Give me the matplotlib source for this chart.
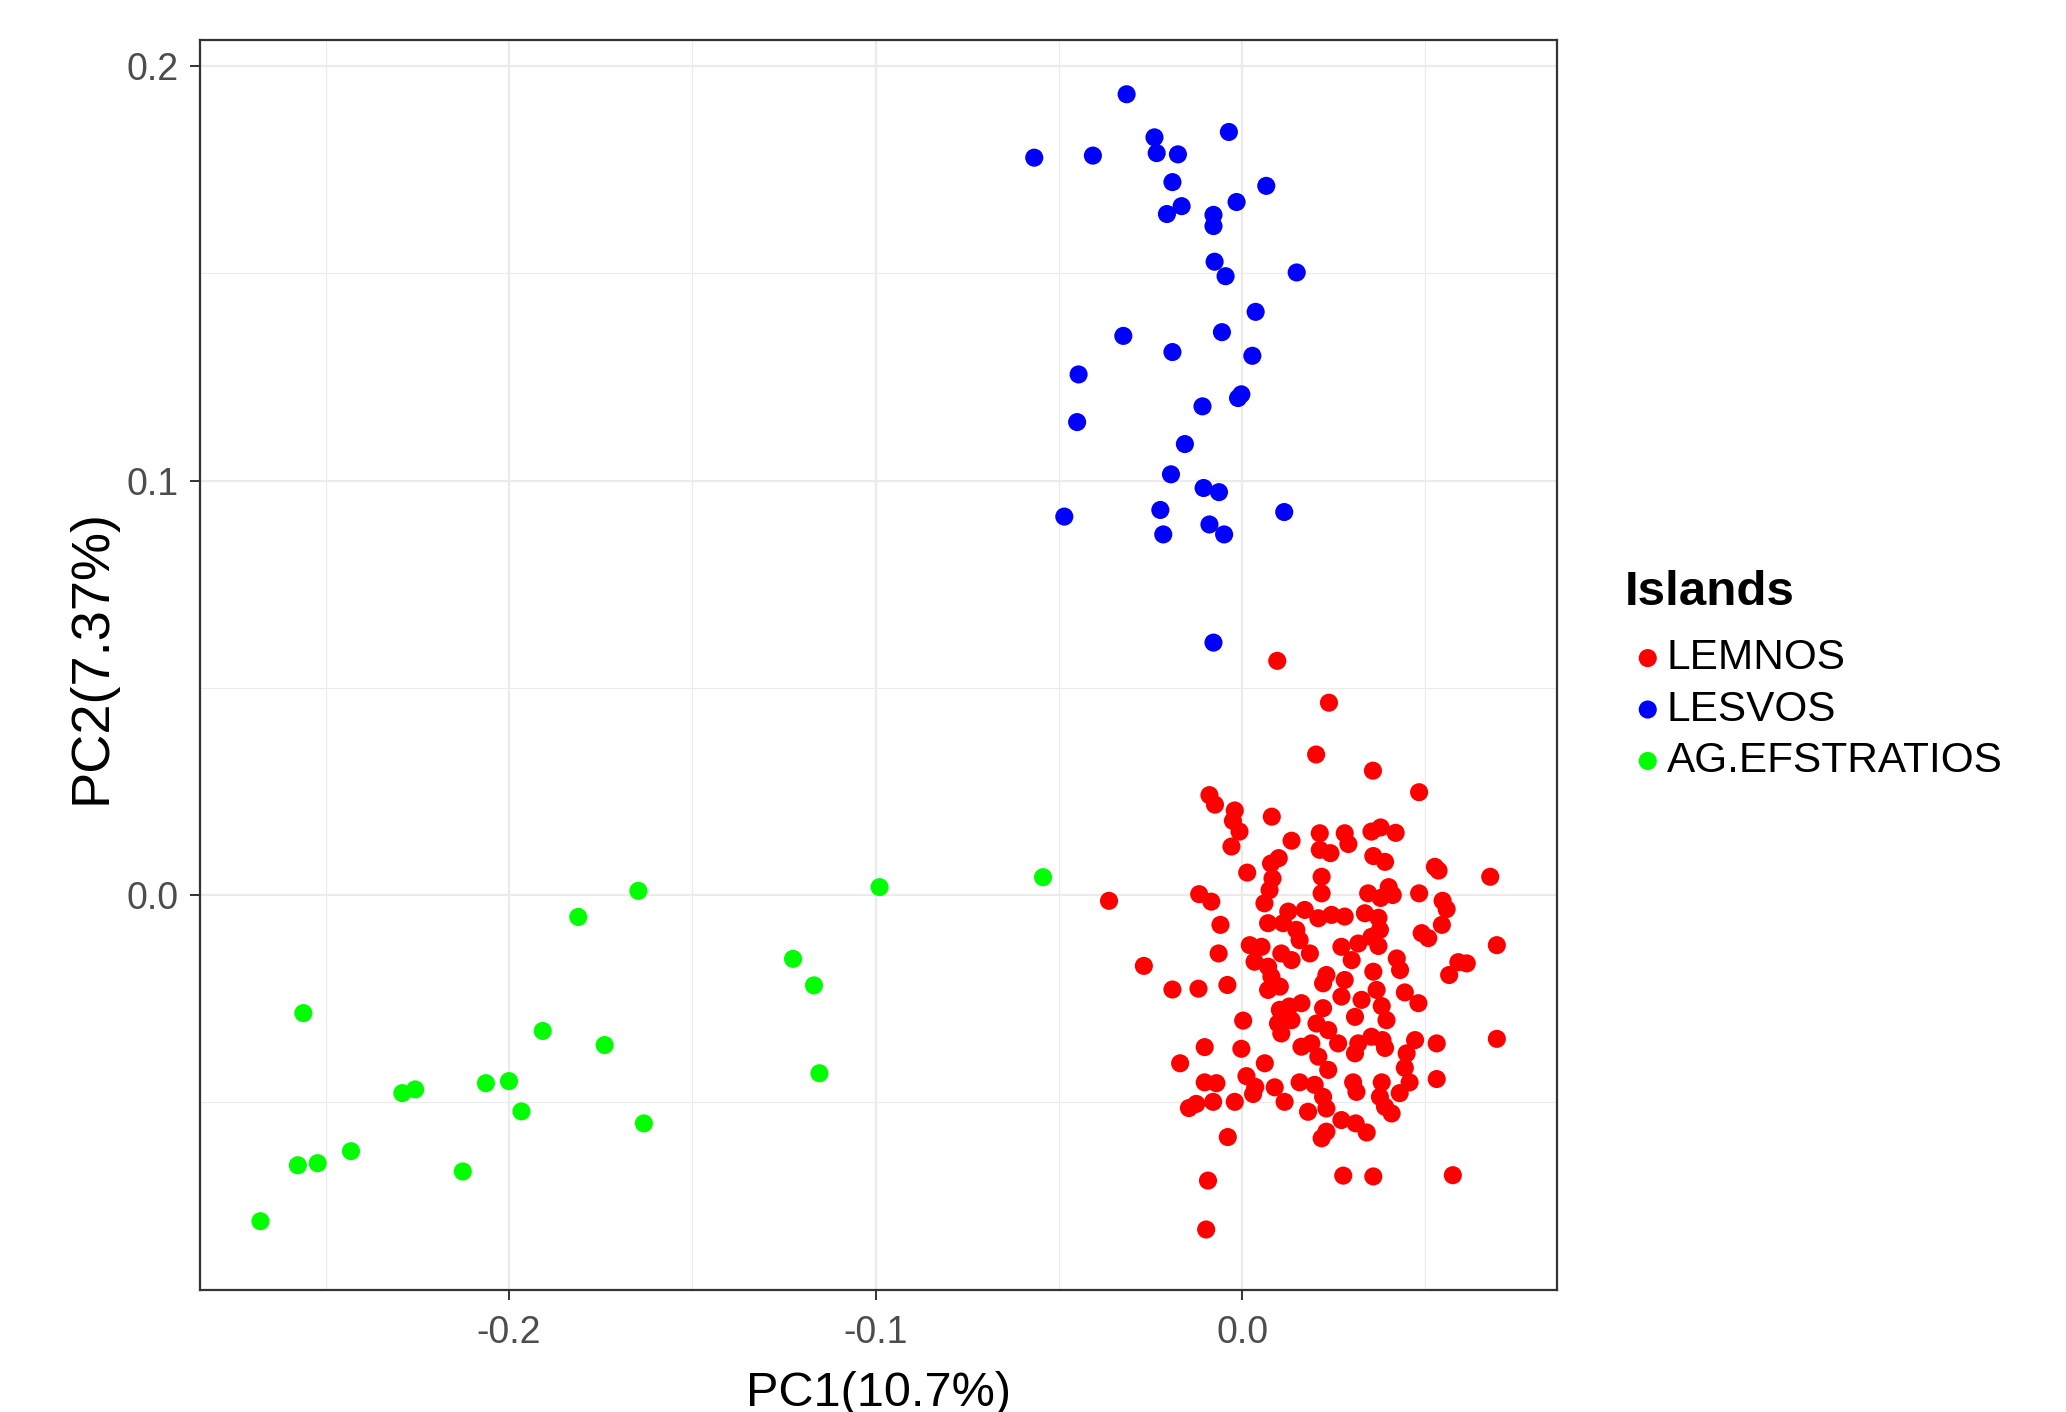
import matplotlib
matplotlib.use("Agg")
import matplotlib.pyplot as plt
import numpy as np

plt.rcParams["font.family"] = ["Liberation Sans", "DejaVu Sans"]

islands = ["LEMNOS", "LESVOS", "AG.EFSTRATIOS"]
island_colors = ["#FF0000", "#0000FF", "#00FF00"]

lemnos_pc1 = [
    0.0096, 0.0237, 0.0202, 0.0357, 0.0483, -0.0089, -0.0074, -0.0020, 0.0081, -0.0025,
    -0.0007, 0.0212, 0.0280, 0.0353, 0.0378, 0.0419, 0.0135, 0.0290, -0.0029, 0.0212,
    0.0241, 0.0358, 0.0390, 0.0100, 0.0079, 0.0526, 0.0536, 0.0677, 0.0014, 0.0083,
    0.0217, 0.0075, 0.0061, 0.0217, 0.0344, 0.0400, 0.0411, 0.0483, -0.0363, -0.0117,
    -0.0084, 0.0547, 0.0558, 0.0378, 0.0126, 0.0171, 0.0208, 0.0244, 0.0280, 0.0335,
    0.0372, -0.0059, 0.0071, 0.0112, 0.0148, 0.0157, 0.0545, 0.0376, 0.0490, 0.0508,
    0.0021, 0.0053, 0.0271, 0.0317, 0.0353, 0.0372, 0.0695, -0.0064, 0.0034, 0.0071,
    0.0107, 0.0135, 0.0185, 0.0299, 0.0422, 0.0431, 0.0590, 0.0613, 0.0565, -0.0268,
    0.0080, 0.0230, 0.0280, 0.0358, -0.0190, -0.0119, -0.0040, 0.0071, 0.0103, 0.0221,
    0.0271, 0.0367, 0.0444, 0.0481, 0.0326, 0.0381, 0.0103, 0.0129, 0.0162, 0.0221,
    0.0308, 0.0394, 0.0003, 0.0098, 0.0135, 0.0107, 0.0203, 0.0235, 0.0262, 0.0162,
    0.0189, 0.0208, 0.0235, 0.0317, 0.0308, 0.0353, 0.0383, 0.0390, 0.0472, 0.0449,
    0.0444, 0.0457, 0.0430, 0.0531, 0.0531, 0.0695, -0.0102, -0.0002, -0.0169, 0.0062,
    0.0012, 0.0036, -0.0102, -0.0070, -0.0079, -0.0145, -0.0125, -0.0020, 0.0089, 0.0116,
    0.0157, 0.0198, 0.0221, 0.0180, 0.0230, 0.0303, 0.0312, 0.0381, 0.0376, 0.0390,
    0.0408, 0.0271, 0.0310, 0.0340, 0.0230, 0.0217, -0.0039, -0.0093, 0.0276, 0.0358,
    0.0575, -0.0098, 0.0030,
]
lemnos_pc2 = [
    0.0565, 0.0464, 0.0339, 0.0300, 0.0248, 0.0241, 0.0218, 0.0204, 0.0189, 0.0179,
    0.0153, 0.0149, 0.0149, 0.0153, 0.0163, 0.0150, 0.0131, 0.0123, 0.0117, 0.0109,
    0.0101, 0.0094, 0.0080, 0.0089, 0.0076, 0.0068, 0.0059, 0.0044, 0.0054, 0.0040,
    0.0044, 0.0012, -0.0020, 0.0004, 0.0004, 0.0019, 0.0000, 0.0004, -0.0014, 0.0002,
    -0.0016, -0.0014, -0.0034, -0.0007, -0.0040, -0.0036, -0.0056, -0.0048, -0.0052, -0.0044,
    -0.0055, -0.0072, -0.0068, -0.0068, -0.0084, -0.0109, -0.0072, -0.0084, -0.0092, -0.0104,
    -0.0121, -0.0125, -0.0125, -0.0117, -0.0101, -0.0123, -0.0121, -0.0141, -0.0161, -0.0173,
    -0.0141, -0.0157, -0.0141, -0.0157, -0.0153, -0.0181, -0.0162, -0.0165, -0.0193, -0.0171,
    -0.0197, -0.0193, -0.0205, -0.0185, -0.0228, -0.0226, -0.0217, -0.0229, -0.0221, -0.0213,
    -0.0245, -0.0229, -0.0235, -0.0261, -0.0253, -0.0268, -0.0277, -0.0269, -0.0261, -0.0273,
    -0.0294, -0.0302, -0.0303, -0.0310, -0.0302, -0.0334, -0.0310, -0.0326, -0.0358, -0.0366,
    -0.0358, -0.0390, -0.0422, -0.0358, -0.0382, -0.0342, -0.0350, -0.0369, -0.0350, -0.0382,
    -0.0417, -0.0452, -0.0478, -0.0358, -0.0444, -0.0347, -0.0367, -0.0371, -0.0406, -0.0406,
    -0.0437, -0.0463, -0.0452, -0.0454, -0.0499, -0.0514, -0.0504, -0.0499, -0.0464, -0.0499,
    -0.0452, -0.0458, -0.0487, -0.0523, -0.0515, -0.0452, -0.0475, -0.0452, -0.0487, -0.0511,
    -0.0527, -0.0543, -0.0551, -0.0573, -0.0571, -0.0587, -0.0584, -0.0689, -0.0677, -0.0679,
    -0.0676, -0.0807, -0.0480,
]

lesvos_pc1 = [
    -0.0315, -0.0036, -0.0239, -0.0233, -0.0175, -0.0567, -0.0407, -0.0190, 0.0066, -0.0015,
    -0.0165, -0.0205, -0.0078, -0.0078, -0.0075, -0.0045, 0.0149, 0.0037, -0.0055, -0.0324,
    -0.0190, 0.0028, -0.0446, -0.0002, -0.0011, -0.0108, -0.0450, -0.0156, -0.0194, -0.0105,
    -0.0063, -0.0485, -0.0223, 0.0115, -0.0089, -0.0215, -0.0049, -0.0078,
]
lesvos_pc2 = [
    0.1932, 0.1841, 0.1828, 0.1790, 0.1787, 0.1779, 0.1784, 0.1720, 0.1711, 0.1672,
    0.1662, 0.1643, 0.1641, 0.1614, 0.1528, 0.1493, 0.1502, 0.1407, 0.1358, 0.1349,
    0.1310, 0.1301, 0.1256, 0.1208, 0.1199, 0.1179, 0.1141, 0.1088, 0.1015, 0.0982,
    0.0972, 0.0913, 0.0929, 0.0924, 0.0894, 0.0870, 0.0870, 0.0609,
]

efstratios_pc1 = [
    -0.1647, -0.1811, -0.2561, -0.1908, -0.1739, -0.2291, -0.2256, -0.2063, -0.2000, -0.1966,
    -0.1632, -0.2431, -0.2576, -0.2522, -0.2126, -0.2678, -0.0989, -0.0543, -0.1225, -0.1168,
    -0.1153,
]
efstratios_pc2 = [
    0.0010, -0.0053, -0.0285, -0.0328, -0.0362, -0.0478, -0.0469, -0.0454, -0.0449, -0.0522,
    -0.0551, -0.0618, -0.0652, -0.0647, -0.0667, -0.0787, 0.0019, 0.0043, -0.0154, -0.0218,
    -0.0430,
]

x_ticks = [-0.2, -0.1, 0.0]
y_ticks = [0.0, 0.1, 0.2]

fig = plt.figure(figsize=(20.66, 14.12), dpi=100)
ax = fig.add_axes([0.0968, 0.0864, 0.6568, 0.8853])

series = [
    (lemnos_pc1, lemnos_pc2),
    (lesvos_pc1, lesvos_pc2),
    (efstratios_pc1, efstratios_pc2),
]
for (pc1, pc2), name, color in zip(series, islands, island_colors):
    ax.scatter(pc1, pc2, s=170, color=color, edgecolors="none", label=name, zorder=3)

ax.set_xlim(-0.2843, 0.0859)
ax.set_ylim(-0.0953, 0.2063)
ax.set_xticks(x_ticks)
ax.set_xticklabels([f"{v:.1f}" for v in x_ticks])
ax.set_yticks(y_ticks)
ax.set_yticklabels([f"{v:.1f}" for v in y_ticks])
ax.set_xticks([-0.25, -0.15, -0.05, 0.05], minor=True)
ax.set_yticks([-0.05, 0.05, 0.15], minor=True)

ax.grid(True, which="major", color="#EBEBEB", linewidth=1.6, zorder=0)
ax.grid(True, which="minor", color="#EBEBEB", linewidth=0.8, zorder=0)
ax.set_axisbelow(True)

for spine in ax.spines.values():
    spine.set_color("#333333")
    spine.set_linewidth(1.6)

ax.tick_params(which="major", length=7.2, width=1.4, color="#333333",
               labelcolor="#4D4D4D", labelsize=27)
ax.tick_params(axis="x", pad=11)
ax.tick_params(axis="y", pad=8)
ax.tick_params(which="minor", length=0)

ax.set_xlabel("PC1(10.7%)", fontsize=35, labelpad=14)
ax.set_ylabel("PC2(7.37%)", fontsize=39)
ax.yaxis.set_label_coords(-0.0612, 0.507)

# legend title drawn on its own so its spacing can follow the reference
fig.text(0.7865, 0.5718, "Islands", fontsize=35.5, fontweight="bold",
         ha="left", va="baseline")
ax.legend(
    loc="upper left",
    bbox_to_anchor=(0.7914, 0.548),
    bbox_transform=fig.transFigure,
    frameon=False,
    fontsize=30.5,
    handletextpad=0.15,
    labelspacing=0.27,
    borderpad=0,
    borderaxespad=0,
    handlelength=0.6,
    scatterpoints=1,
)

fig.savefig("out.png", dpi=100)
